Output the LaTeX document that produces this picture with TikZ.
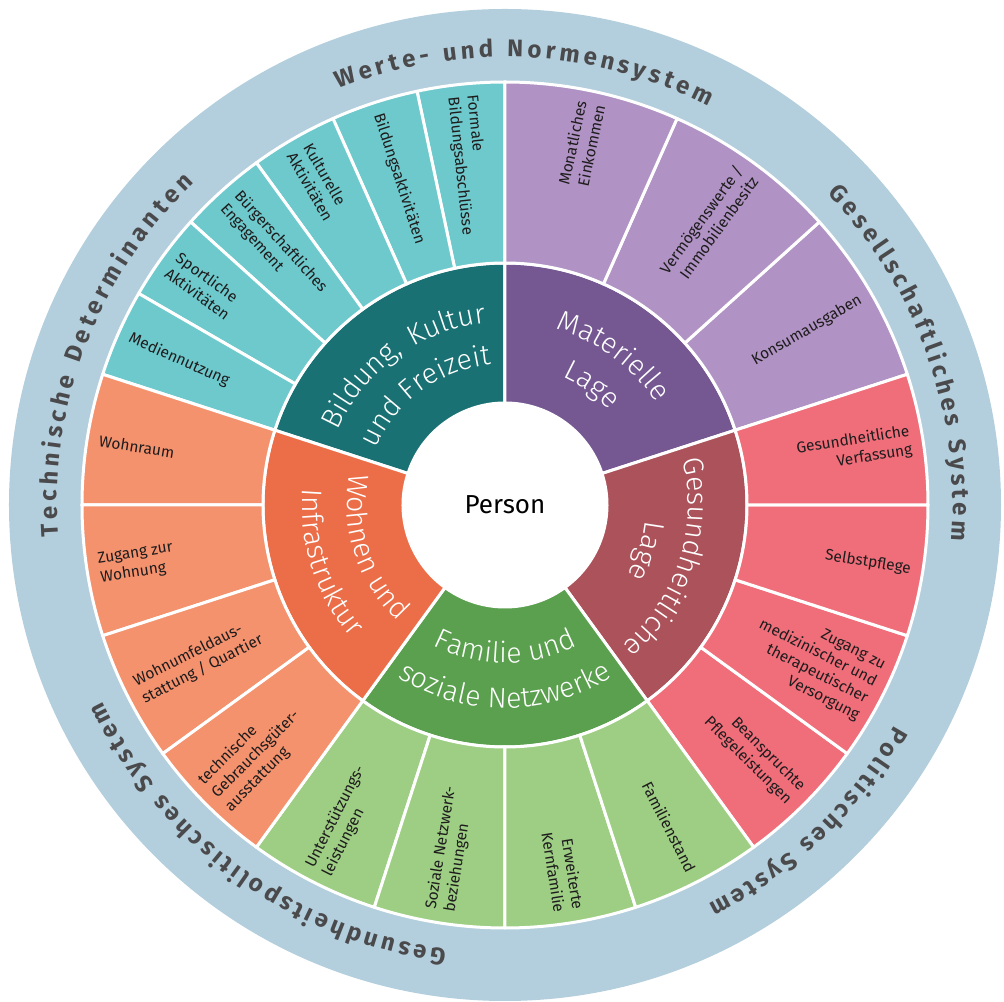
\documentclass[tikz,border=0pt]{standalone}
\usepackage{fontspec}
\setmainfont{Fira Sans}
\newfontfamily\hubface{Fira Sans}[UprightFont={* Light}]
\usetikzlibrary{decorations.text}

\definecolor{ringblue}{HTML}{B3CEDC}
\definecolor{ringtext}{HTML}{4A4A4C}
\definecolor{leaftext}{HTML}{1E1C1D}
\definecolor{bildungD}{HTML}{1A7173}
\definecolor{bildungL}{HTML}{6EC9CC}
\definecolor{materiellD}{HTML}{755892}
\definecolor{materiellL}{HTML}{B093C4}
\definecolor{gesundD}{HTML}{AB525A}
\definecolor{gesundL}{HTML}{F06E7A}
\definecolor{familieD}{HTML}{5AA04E}
\definecolor{familieL}{HTML}{9DCE83}
\definecolor{wohnenD}{HTML}{EC6E48}
\definecolor{wohnenL}{HTML}{F4926E}

\newcommand{\hubfont}{\hubface\fontsize{28.5}{30}\selectfont}
\newcommand{\ringfont}{\fontsize{24}{28}\selectfont\bfseries}
\newcommand{\ringpart}[5]{%
  \fill[#5, wedge] (#1:#3) arc (#1:#2:#3) -- (#2:#4) arc (#2:#1:#4) -- cycle;}

\tikzset{
  wedge/.style={draw=white, line width=3pt, line join=round},
  leafleft/.style={anchor=west, align=left, inner sep=0pt, text=leaftext,
    font=\fontsize{15.5}{19}\selectfont},
  leafright/.style={leafleft, anchor=east, align=right},
  hubline/.style={decorate, decoration={text along path, text align=center,
    text={|\hubfont\color{white}|#1}}},
  ringline/.style={decorate, decoration={text along path, text align=fit to path,
    text={|\ringfont\color{ringtext}|#1}}}
}

\begin{document}
\begin{tikzpicture}[scale=0.0351459]
	\useasboundingbox (-505,-497) rectangle (499,505);
	\fill[ringblue] (0,0) circle (496);

	\ringpart{90}{162}{102}{242}{bildungD}
	\ringpart{18}{90}{102}{242}{materiellD}
	\ringpart{-54}{18}{102}{242}{gesundD}
	\ringpart{-126}{-54}{102}{242}{familieD}
	\ringpart{162}{234}{102}{242}{wohnenD}
	\foreach \a in {90,102,...,150} {\ringpart{\a}{\a+12}{242}{423}{bildungL}}
	\foreach \a in {18,42,66} {\ringpart{\a}{\a+24}{242}{423}{materiellL}}
	\foreach \a in {-54,-36,...,0} {\ringpart{\a}{\a+18}{242}{423}{gesundL}}
	\foreach \a in {-126,-108,...,-72} {\ringpart{\a}{\a+18}{242}{423}{familieL}}
	\foreach \a in {162,180,...,216} {\ringpart{\a}{\a+18}{242}{423}{wohnenL}}
	\fill[white] (0,0) circle (102.5);
	\node[font=\fontsize{26}{30}\selectfont] (person) at (0,0) {Person};

	\path[hubline={Bildung,{\kern4pt} Kultur}] (186:183) arc (186:66:183);
	\path[hubline={und Freizeit}] (186:141) arc (186:66:141);
	\path[hubline={Materielle}] (114:183) arc (114:-6:183);
	\path[hubline={Lage}] (114:141) arc (114:-6:141);
	\path[hubline={Gesundheitliche}] (42:183) arc (42:-78:183);
	\path[hubline={Lage}] (42:141) arc (42:-78:141);
	\path[hubline={Familie und}] (-150:158) arc (-150:-30:158);
	\path[hubline={soziale Netzwerke}] (-150:203) arc (-150:-30:203);
	\path[hubline={Wohnen und}] (138:158) arc (138:258:158);
	\path[hubline={Infrastruktur}] (138:203) arc (138:258:203);

	\node[leafleft, rotate=276] (bildung1) at (96:411) {Formale\\Bildungsabschlüsse};
	\node[leafleft, rotate=288] (bildung2) at (108:411) {Bildungsaktivitäten};
	\node[leafleft, rotate=300] (bildung3) at (120:411) {Kulturelle\\Aktivitäten};
	\node[leafleft, rotate=312] (bildung4) at (132:411) {Bürgerschaftliches\\Engagement};
	\node[leafleft, rotate=324] (bildung5) at (144:411) {Sportliche\\Aktivitäten};
	\node[leafleft, rotate=336] (bildung6) at (156:411) {Mediennutzung};
	\node[leafright, rotate=78] (materiell1) at (78:411) {Monatliches\\Einkommen};
	\node[leafright, rotate=54] (materiell2) at (54:411) {Vermögenswerte /\\Immobilienbesitz};
	\node[leafright, rotate=30] (materiell3) at (30:411) {Konsumausgaben};
	\node[leafright, rotate=9] (gesund1) at (9:411) {Gesundheitliche\\Verfassung};
	\node[leafright, rotate=-9] (gesund2) at (-9:411) {Selbstpflege};
	\node[leafright, rotate=-27] (gesund3) at (-27:411) {Zugang zu\\medizinischer und\\therapeutischer\\Versorgung};
	\node[leafright, rotate=-45] (gesund4) at (-45:411) {Beanspruchte\\Pflegeleistungen};
	\node[leafright, rotate=-63] (familie1) at (-63:411) {Familienstand};
	\node[leafright, rotate=-81] (familie2) at (-81:411) {Erweiterte\\Kernfamilie};
	\node[leafleft, rotate=81] (familie3) at (-99:411) {Soziale Netzwerk-\\beziehungen};
	\node[leafleft, rotate=63] (familie4) at (-117:411) {Unterstützungs-\\leistungen};
	\node[leafleft, rotate=45] (wohnen1) at (225:411) {technische\\Gebrauchsgüter-\\ausstattung};
	\node[leafleft, rotate=27] (wohnen2) at (207:411) {Wohnumfeldaus-\\stattung / Quartier};
	\node[leafleft, rotate=9] (wohnen3) at (189:411) {Zugang zur\\Wohnung};
	\node[leafleft, rotate=-9] (wohnen4) at (171:411) {Wohnraum};

	\path[ringline={Werte- und Normensystem}] (111.8:448) arc (111.8:63:448);
	\path[ringline={Gesellschaftliches System}] (44:448) arc (44:-4.5:448);
	\path[ringline={Politisches System}] (-29.5:448) arc (-29.5:-63:448);
	\path[ringline={Gesundheitspolitisches System}] (-97.5:448) arc (-97.5:-154:448);
	\path[ringline={Technische Determinanten}] (184:448) arc (184:134:448);
\end{tikzpicture}
\end{document}
